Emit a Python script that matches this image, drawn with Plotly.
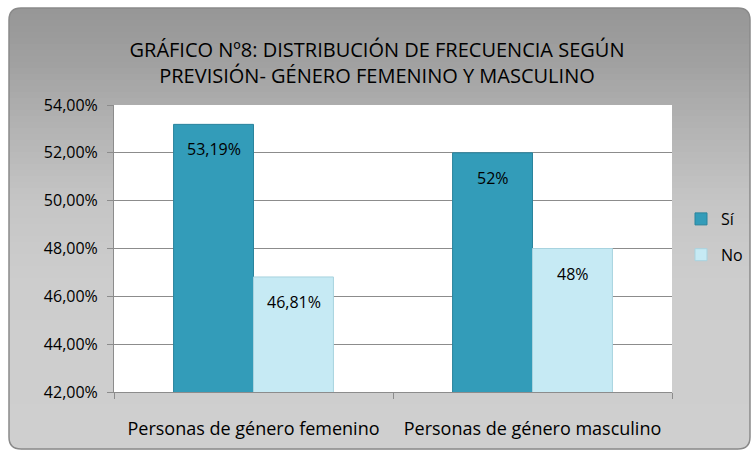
import plotly.graph_objects as go

# ---- data ----
categories = ["Personas de género femenino", "Personas de género masculino"]
si_values = [53.19, 52.0]
no_values = [46.81, 48.0]
si_labels = ["53,19%", "52%"]
no_labels = ["46,81%", "48%"]
series_names = ["Sí", "No"]
y_tick_values = [42, 44, 46, 48, 50, 52, 54]
y_tick_labels = ["42,00%", "44,00%", "46,00%", "48,00%", "50,00%", "52,00%", "54,00%"]
title_text = "GRÁFICO Nº8: DISTRIBUCIÓN DE FRECUENCIA SEGÚN<br>PREVISIÓN- GÉNERO FEMENINO Y MASCULINO"

FONT = "Open Sans, sans-serif"
W, H = 754, 453
PL, PR, PT, PB = 114, 672, 105, 392  # plot area in pixels


def X(px):
    return (px - PL) / (PR - PL)


def Y(py):
    return (PB - py) / (PB - PT)


fig = go.Figure()
fig.add_trace(go.Bar(
    x=categories, y=si_values, name=series_names[0], legendgroup="a",
    marker=dict(color="#339cb9", line=dict(color="#2a849d", width=1)),
))
fig.add_trace(go.Bar(
    x=categories, y=no_values, name=series_names[1], legendgroup="b",
    marker=dict(color="#c6eaf4", line=dict(color="#a8d3df", width=1)),
))

annotations = []
for i, c in enumerate(categories):
    annotations.append(dict(x=c, y=si_values[i], xref="x", yref="y", text=si_labels[i],
                            showarrow=False, xshift=-40, yshift=-25,
                            font=dict(family=FONT, size=16, color="#000")))
    annotations.append(dict(x=c, y=no_values[i], xref="x", yref="y", text=no_labels[i],
                            showarrow=False, xshift=40, yshift=-25,
                            font=dict(family=FONT, size=16, color="#000")))

# ---- background frame (gradient strips + rounded corners) ----
shapes = []
fx0, fx1, fy0, fy1 = 9, 750, 8, 449
stops = [(8, (150, 150, 150)), (60, (160, 160, 160)), (120, (177, 177, 177)),
         (200, (197, 197, 197)), (280, (205, 205, 205)), (449, (207, 207, 207))]


def col_at(py):
    for (a, ca), (b, cb) in zip(stops[:-1], stops[1:]):
        if a <= py <= b:
            t = (py - a) / (b - a)
            return tuple(int(round(ca[k] + (cb[k] - ca[k]) * t)) for k in range(3))
    return stops[-1][1]


step = 6
yy = fy0
while yy < fy1:
    y2 = min(yy + step, fy1)
    c = col_at((yy + y2) / 2)
    shapes.append(dict(type="rect", xref="paper", yref="paper", layer="below",
                       x0=X(fx0), x1=X(fx1), y0=Y(yy), y1=Y(y2 + 0.5),
                       fillcolor="rgb(%d,%d,%d)" % c, line=dict(width=0)))
    yy = y2

r = 12
for (cx, cy, sx, sy) in [(fx0, fy0, 1, 1), (fx1, fy0, -1, 1), (fx0, fy1, 1, -1), (fx1, fy1, -1, -1)]:
    p1 = (cx + sx * r, cy)
    p2 = (cx, cy + sy * r)
    path = "M %f,%f L %f,%f L %f,%f Q %f,%f %f,%f L %f,%f Z" % (
        X(cx - sx * 2), Y(cy - sy * 2), X(p1[0]), Y(cy - sy * 2), X(p1[0]), Y(p1[1]),
        X(cx), Y(cy), X(p2[0]), Y(p2[1]), X(cx - sx * 2), Y(p2[1]))
    shapes.append(dict(type="path", xref="paper", yref="paper", layer="below",
                       path=path, fillcolor="white", line=dict(width=0)))

# outline of frame
outline = "M %f,%f L %f,%f Q %f,%f %f,%f L %f,%f Q %f,%f %f,%f L %f,%f Q %f,%f %f,%f L %f,%f Q %f,%f %f,%f Z" % (
    X(fx0 + r), Y(fy0), X(fx1 - r), Y(fy0), X(fx1), Y(fy0), X(fx1), Y(fy0 + r),
    X(fx1), Y(fy1 - r), X(fx1), Y(fy1), X(fx1 - r), Y(fy1),
    X(fx0 + r), Y(fy1), X(fx0), Y(fy1), X(fx0), Y(fy1 - r),
    X(fx0), Y(fy0 + r), X(fx0), Y(fy0), X(fx0 + r), Y(fy0))
shapes.append(dict(type="path", xref="paper", yref="paper", layer="below",
                   path=outline, line=dict(color="#8a8a8a", width=1.5)))

# white plot area
shapes.append(dict(type="rect", xref="paper", yref="paper", layer="below",
                   x0=0, x1=1, y0=0, y1=1, fillcolor="white", line=dict(width=0)))

fig.update_layout(
    width=W, height=H,
    margin=dict(l=PL, r=W - PR, t=PT, b=H - PB, autoexpand=False),
    paper_bgcolor="white",
    plot_bgcolor="rgba(0,0,0,0)",
    barmode="group",
    bargap=0.427,
    bargroupgap=0,
    font=dict(family=FONT, size=16, color="#000"),
    title=dict(text=title_text, x=0.5, xref="container", xanchor="center",
               y=1 - 57 / H, yref="container", yanchor="middle",
               font=dict(family=FONT, size=20, color="#000")),
    legend=dict(x=X(681), y=Y(202), xanchor="left", yanchor="top",
                bgcolor="rgba(0,0,0,0)", font=dict(family=FONT, size=16),
                tracegroupgap=12, itemwidth=30),
    showlegend=True,
    shapes=shapes,
    annotations=annotations,
)
fig.update_yaxes(range=[42, 54], tickvals=y_tick_values, ticktext=y_tick_labels,
                 showgrid=True, gridcolor="#8c8c8c", gridwidth=1,
                 showline=True, linecolor="#8c8c8c", linewidth=1,
                 ticks="outside", ticklen=6, tickcolor="#8c8c8c", ticklabelstandoff=6,
                 tickfont=dict(family=FONT, size=16), zeroline=False)
fig.update_xaxes(showline=True, linecolor="#8c8c8c", linewidth=1,
                 ticks="outside", tickson="boundaries", ticklen=6, tickcolor="#8c8c8c",
                 ticklabelstandoff=20,
                 tickfont=dict(family=FONT, size=18), showgrid=False)

fig.write_html("out.html", config={"displayModeBar": False},
               post_script="document.body.style.margin='0';document.body.style.overflow='hidden';")
